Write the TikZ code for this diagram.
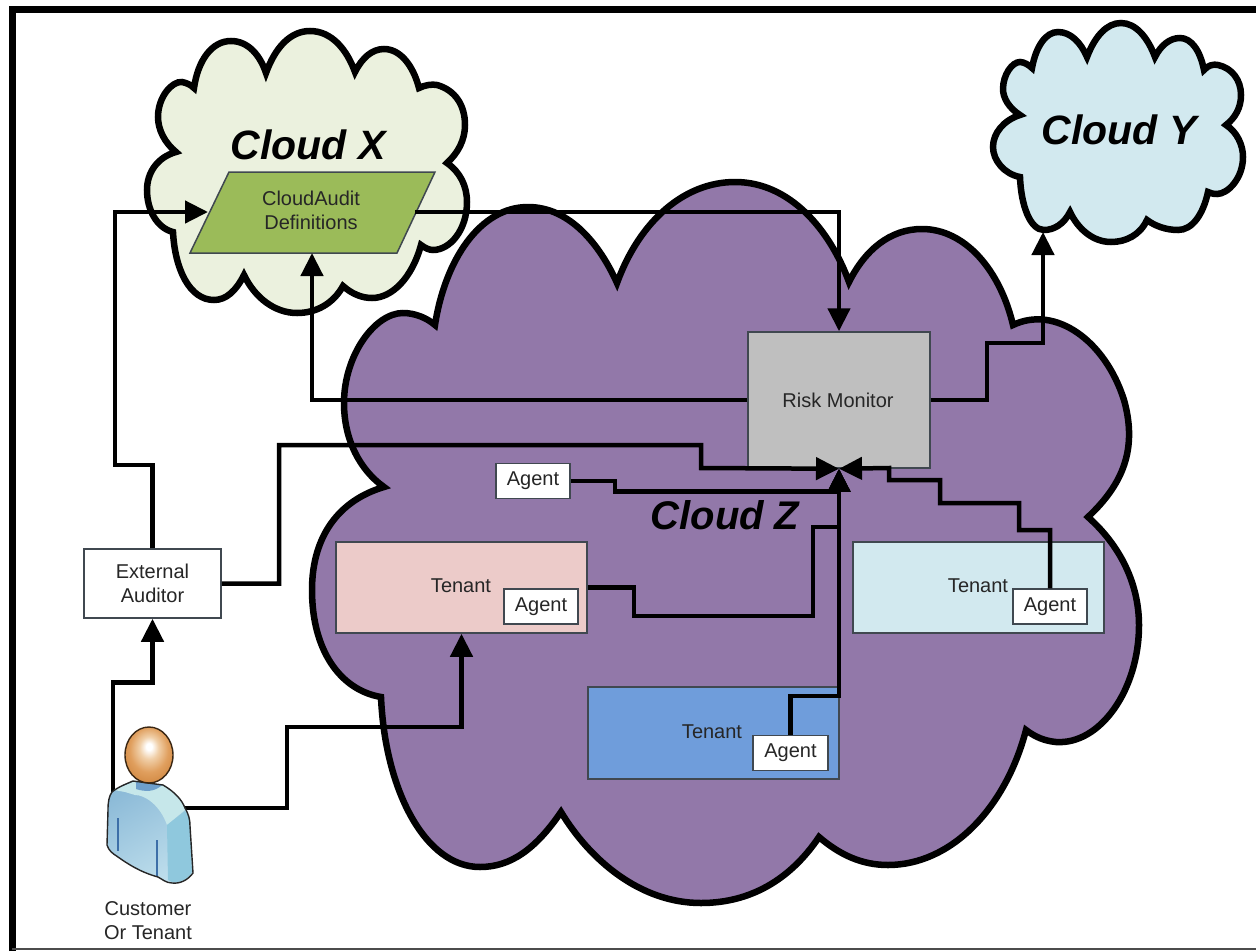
\documentclass[tikz,border=0pt]{standalone}
\usepackage{fontspec}
\setmainfont{Liberation Sans}
\usetikzlibrary{arrows.meta,calc,shadings}
\definecolor{cxfill}{HTML}{EBF1DE}
\definecolor{cyfill}{HTML}{D2E9EF}
\definecolor{czfill}{HTML}{9278A9}
\definecolor{defsfill}{HTML}{9BBB59}
\definecolor{riskfill}{HTML}{BFBFBF}
\definecolor{pinkfill}{HTML}{ECCBC9}
\definecolor{bluefill}{HTML}{6F9DDB}
\definecolor{edge}{HTML}{404850}
\definecolor{txt}{HTML}{262626}
\definecolor{bodytop}{HTML}{8DBBD8}
\definecolor{bodybot}{HTML}{BEDEEC}
\definecolor{collar}{HTML}{C6E7EA}
\definecolor{sleeve}{HTML}{8FC8DD}
\definecolor{neck}{HTML}{6E9FCB}
\definecolor{crease}{HTML}{3D6FA8}
\definecolor{headlight}{HTML}{F0CFA8}
\definecolor{headmid}{HTML}{E09F5E}
\definecolor{headout}{HTML}{C87A30}
\pgfdeclareradialshading{headshade}{\pgfpoint{0bp}{8bp}}{
  color(0bp)=(white);
  color(3bp)=(white);
  color(10bp)=(headlight);
  color(20bp)=(headmid);
  color(36bp)=(headout);
  color(50bp)=(headout)}
\tikzset{
  x=1pt,y=-1pt,
  cloudline/.style={line width=6.5pt,line join=miter,miter limit=4,draw=black},
  boxnode/.style={draw=edge,line width=1.5pt,inner sep=0pt,text=txt,font=\fontsize{20}{24}\selectfont,align=center},
  agentbox/.style={boxnode,fill=white,minimum width=74pt,minimum height=35pt},
  tenantbox/.style={boxnode,minimum width=251pt,minimum height=91pt},
  tenantlabel/.style={text=txt,font=\fontsize{20}{24}\selectfont,inner sep=0pt},
  cloudlabel/.style={text=black,font=\fontsize{41}{48}\selectfont\bfseries\itshape,inner sep=0pt},
  plain/.style={text=txt,font=\fontsize{20}{24}\selectfont,align=center,inner sep=0pt},
  link/.style={line width=4.5pt,draw=black,line join=miter,line cap=butt},
  linkarrow/.style={link,-{Triangle[length=23pt,width=22pt]}},
}
\newcommand\bodypath{(112,792) .. controls (118,787) and (126,784) .. (133,781) -- (163,785) .. controls (175,792) and (182,800) .. (185,808) .. controls (189,815) and (190,820) .. (190,826) -- (193,873) .. controls (188,880) and (180,884) .. (172,883) .. controls (166,883) and (162,879) .. (158,877) .. controls (140,872) and (128,864) .. (118,857) .. controls (112,853) and (109,851) .. (107,845) -- (108,810) .. controls (108,802) and (109,796) .. (112,792) -- cycle}
\begin{document}
\begin{tikzpicture}
\useasboundingbox (0,0) rectangle (1256,951);
\fill[white] (0,0) rectangle (1256,951);
% frame
\draw[line width=7pt,line join=miter] (12,951) -- (12,9) -- (1256,9);
\draw[line width=2pt,draw=black!70] (12,949) -- (1256,949);
% cloud X
\draw[cloudline,fill=cxfill] (194,88)
 .. controls (198,60) and (212,41) .. (231,41) .. controls (248,41) and (260,55) .. (266,73)
 .. controls (275,48) and (290,31) .. (310,31) .. controls (332,31) and (347,50) .. (355,72)
 .. controls (362,58) and (372,49) .. (384,49) .. controls (400,49) and (413,65) .. (419,88)
 .. controls (425,85) and (432,84) .. (437,85) .. controls (455,90) and (465,105) .. (465,125) .. controls (465,140) and (458,153) .. (447,163)
 .. controls (460,172) and (467,186) .. (467,202) .. controls (467,230) and (450,250) .. (433,250) .. controls (429,250) and (425,248) .. (421,245)
 .. controls (412,278) and (392,298) .. (372,298) .. controls (362,298) and (352,294) .. (343,286)
 .. controls (333,304) and (316,313) .. (297,313) .. controls (275,313) and (255,298) .. (244,275)
 .. controls (236,291) and (226,300) .. (214,300) .. controls (190,300) and (175,270) .. (173,232)
 .. controls (157,228) and (147,210) .. (147,190) .. controls (147,172) and (158,157) .. (176,152)
 .. controls (165,143) and (158,130) .. (158,117) .. controls (158,97) and (172,81) .. (182,82) .. controls (187,83) and (191,85) .. (194,88) -- cycle;
% cloud Y
\draw[cloudline,fill=cyfill] (1032,68)
 .. controls (1036,46) and (1046,32) .. (1058,32) .. controls (1071,32) and (1081,43) .. (1087,57)
 .. controls (1095,36) and (1107,23) .. (1121,23) .. controls (1136,23) and (1148,38) .. (1155,57)
 .. controls (1161,45) and (1170,38) .. (1180,38) .. controls (1191,38) and (1200,50) .. (1204,70)
 .. controls (1208,65) and (1214,64) .. (1218,65) .. controls (1232,68) and (1241,80) .. (1241,95) .. controls (1241,108) and (1235,118) .. (1226,125)
 .. controls (1237,132) and (1243,145) .. (1243,157) .. controls (1243,178) and (1228,194) .. (1217,194) .. controls (1213,194) and (1210,193) .. (1208,192)
 .. controls (1203,215) and (1192,230) .. (1178,230) .. controls (1166,230) and (1155,226) .. (1147,220)
 .. controls (1140,235) and (1126,242) .. (1111,242) .. controls (1093,242) and (1078,229) .. (1070,212)
 .. controls (1064,224) and (1054,230) .. (1044,230) .. controls (1030,230) and (1021,205) .. (1020,177)
 .. controls (1004,174) and (993,160) .. (993,147) .. controls (993,133) and (1004,120) .. (1020,115)
 .. controls (1009,108) and (1003,98) .. (1003,89) .. controls (1003,75) and (1012,62) .. (1020,62) .. controls (1024,62) and (1029,65) .. (1032,68) -- cycle;
% cloud Z
\draw[cloudline,fill=czfill] (435,325)
 .. controls (445,260) and (480,207) .. (528,207) .. controls (570,207) and (600,245) .. (617,283)
 .. controls (640,220) and (685,182) .. (735,182) .. controls (790,182) and (830,230) .. (849,282)
 .. controls (865,250) and (890,229) .. (922,229) .. controls (965,229) and (1000,270) .. (1013,325)
 .. controls (1055,305) and (1105,340) .. (1124,400) .. controls (1138,450) and (1122,485) .. (1088,517)
 .. controls (1125,550) and (1139,590) .. (1139,625) .. controls (1139,690) and (1100,745) .. (1056,742) .. controls (1045,741) and (1035,737) .. (1026,730)
 .. controls (1005,810) and (950,865) .. (888,865) .. controls (862,865) and (840,855) .. (819,837)
 .. controls (790,880) and (750,903) .. (701,903) .. controls (640,903) and (590,860) .. (561,812)
 .. controls (535,850) and (510,867) .. (480,867) .. controls (425,867) and (385,790) .. (381,697)
 .. controls (340,690) and (312,650) .. (312,590) .. controls (312,535) and (340,500) .. (384,487)
 .. controls (360,470) and (344,440) .. (344,403) .. controls (344,355) and (375,313) .. (403,313) .. controls (415,313) and (427,318) .. (435,325) -- cycle;
% boxes
\node[boxnode,fill=riskfill,minimum width=182pt,minimum height=136pt] (risk) at (839,400) {};
\node[plain] (risklabel) at (838,400) {Risk Monitor};
\node[boxnode,fill=white,minimum width=137pt,minimum height=69pt] (auditor) at (152.5,583.5) {External\\Auditor};
\node[tenantbox,fill=pinkfill] (tenantP) at (461.5,587.5) {};
\node[tenantbox,fill=cyfill] (tenantC) at (978.5,587.5) {};
\node[tenantbox,fill=bluefill,minimum height=92pt] (tenantB) at (713.5,733) {};
\node[tenantlabel] (labelP) at (461,586) {Tenant};
\node[tenantlabel] (labelC) at (978,586) {Tenant};
\node[tenantlabel] (labelB) at (712,732) {Tenant};
\node[agentbox] (agentT) at (533,481) {Agent};
\node[agentbox] (agentP) at (541,606.5) {Agent};
\node[agentbox] (agentC) at (1050,606.5) {Agent};
\node[agentbox,minimum width=75pt] (agentB) at (790.5,753) {Agent};
% parallelogram
\coordinate (defsW) at (208,212);
\coordinate (defsE) at (415,212);
\coordinate (defsS) at (312,253);
\draw[fill=defsfill,draw=edge,line width=1.5pt] (229,172) -- (435,172) -- (397,253) -- (190,253) -- cycle;
\node[plain,fill=none] (defs) at (311,210.5) {CloudAudit\\Definitions};
% cloud anchors
\coordinate (cloudYS) at (1043,232);
% person anchors
\coordinate (personL) at (113,795);
\coordinate (personR) at (184,808);
% connectors
\draw[linkarrow] (auditor.north) -- (152.5,465) -- (115,465) -- (115,212) -- (defsW);
\draw[linkarrow] (defsE) -- (839,212) -- (risk.north);
\draw[linkarrow] (risk.west) -- (312,400) -- (defsS);
\draw[linkarrow] (risk.east) -- (987,400) -- (987,343) -- (1043,343) -- (cloudYS);
\draw[linkarrow] (auditor.east) -- (279,583.5) -- (279,445) -- (701,445) -- (701,468) -- (risk.south);
\draw[linkarrow] (agentC.north) -- (1050,530) -- (1019,530) -- (1019,503) -- (940,503) -- (940,480) -- (889,480) -- (889,468) -- (risk.south);
\draw[linkarrow] (agentT.east) -- (615,481) -- (615,491.5) -- (839,491.5) -- (risk.south);
\draw[linkarrow] (tenantP.east) -- (634,587.5) -- (634,616) -- (813,616) -- (813,527) -- (839,527) -- (risk.south);
\draw[linkarrow] (agentB.north) -- (790.5,696) -- (839,696) -- (risk.south);
\draw[linkarrow] (personL) -- (113,682.5) -- (152.5,682.5) -- (auditor.south);
\draw[linkarrow] (personR) -- (287,808) -- (287,727) -- (461.5,727) -- (tenantP.south);
% person
\begin{scope}[line width=1.4pt]
\shade[top color=bodytop,bottom color=bodybot,shading angle=30] \bodypath;
\fill[collar] (114,790) -- (133,782) -- (163,785) .. controls (175,792) and (182,800) .. (185,810) -- (167,825) .. controls (160,805) and (145,795) .. (135,795) -- (125,792) -- cycle;
\fill[sleeve] (167,825) -- (185,811) .. controls (189,815) and (190,820) .. (190,826) -- (192,872) .. controls (188,879) and (180,883) .. (172,882) -- (168,880) -- cycle;
\fill[neck] (136,782) -- (162,785) .. controls (155,792) and (145,792) .. (136,789) -- cycle;
\draw[draw=crease,line width=1.2pt] (118,818) -- (118,851);
\draw[draw=crease,line width=1.2pt] (157,840) -- (157,876);
\draw[draw=black!85] \bodypath;
\shade[shading=headshade,draw=black!70!brown] (149,755) ellipse [x radius=24,y radius=28];
\end{scope}
\node[plain] (customer) at (148,920.5) {Customer\\Or Tenant};
% cloud labels
\node[cloudlabel] (cloudX) at (308,145) {Cloud X};
\node[cloudlabel] (cloudY) at (1119,130) {Cloud Y};
\node[cloudlabel,font=\fontsize{40}{48}\selectfont\bfseries\itshape] (cloudZ) at (725,515) {Cloud Z};
\end{tikzpicture}
\end{document}
